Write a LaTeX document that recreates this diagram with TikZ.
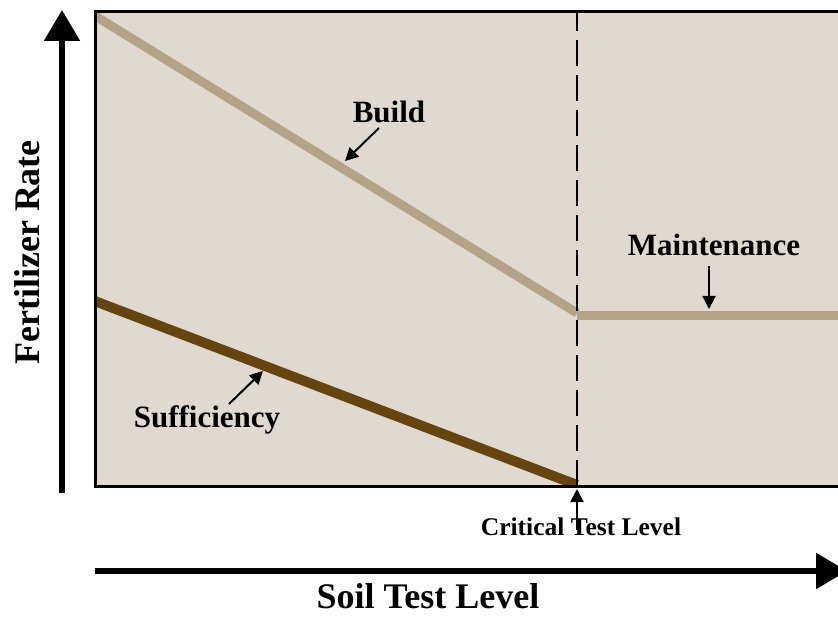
\documentclass[tikz,border=0pt]{standalone}
\usepackage{fontspec}
\setmainfont{Liberation Serif}
\usetikzlibrary{arrows.meta}
\definecolor{bgfill}{HTML}{DFD9CF}
\definecolor{buildc}{HTML}{B4A387}
\definecolor{suffc}{HTML}{66440F}
\begin{document}
\begin{tikzpicture}[x=1pt,y=-1pt,
  lbl/.style={font=\bfseries\fontsize{31}{31}\selectfont, anchor=base, inner sep=0pt},
  axlbl/.style={font=\bfseries\fontsize{36}{36}\selectfont, anchor=base, inner sep=0pt, text depth=0pt},
  smlbl/.style={font=\bfseries\fontsize{25.5}{25.5}\selectfont, anchor=base, inner sep=0pt},
  axis/.style={line width=5.5pt, -{Triangle[length=31pt,width=35pt]}},
  pointer/.style={line width=2pt, -{Triangle[length=13pt,width=13pt]}},
  band/.style={line width=9pt, line cap=butt}]
\useasboundingbox (0,0) rectangle (838,617);
% plot area
\coordinate (tl) at (95,12);
\coordinate (br) at (845,486);
\fill[bgfill] (tl) rectangle (br);
\begin{scope}
  \clip (tl) rectangle (br);
  \coordinate (b0) at (92,14);
  \coordinate (b1) at (577,313);
  \coordinate (m1) at (845,316);
  \coordinate (m0) at (577,316);
  \coordinate (s0) at (92,300);
  \coordinate (s1) at (577,485);
  \draw[band, buildc] (b0) -- (b1);
  \draw[band, buildc] (m0) -- (m1);
  \draw[band, suffc, line width=10pt] (s0) -- (s1);
\end{scope}
\coordinate (dtop) at (577,12);
\coordinate (dbot) at (577,486);
\draw[line width=2pt, dash pattern=on 26pt off 9pt] (dbot) -- (dtop);
% frame
\draw[line width=3pt, line cap=rect] (845,11.5) -- (95,11.5) -- (95,486) -- (845,486);
% axes
\coordinate (ya0) at (62,493);
\coordinate (ya1) at (62,10);
\draw[axis] (ya0) -- (ya1);
\coordinate (xa0) at (95,571);
\coordinate (xa1) at (847,571);
\draw[axis] (xa0) -- (xa1);
\node[axlbl, rotate=90] (ylab) at (39,252.5) {Fertilizer Rate};
\node[axlbl] (xlab) at (428,608) {Soil Test Level};
% labels
\node[lbl] (build) at (389,123) {Build};
\node[lbl] (maint) at (714,256) {Maintenance};
\node[lbl] (suff) at (207,428) {Sufficiency};
\node[smlbl] (crit) at (581,535) {Critical Test Level};
% pointers
\coordinate (bp0) at (379,128);
\coordinate (bp1) at (345,161);
\draw[pointer] (bp0) -- (bp1);
\coordinate (mp0) at (709,266);
\coordinate (mp1) at (709,309);
\draw[pointer] (mp0) -- (mp1);
\coordinate (sp0) at (229,404);
\coordinate (sp1) at (263,371);
\draw[pointer] (sp0) -- (sp1);
\coordinate (cp0) at (577,530);
\coordinate (cp1) at (577,489);
\draw[pointer] (cp0) -- (cp1);
\end{tikzpicture}
\end{document}
